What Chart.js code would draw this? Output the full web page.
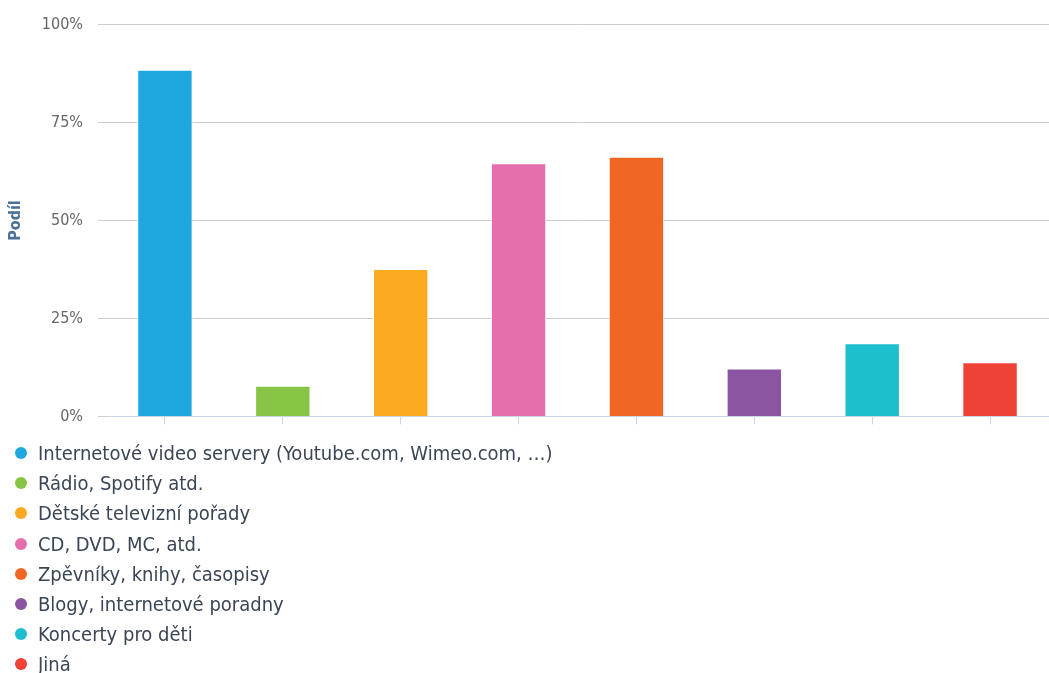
<!DOCTYPE html>
<html>
<head>
<meta charset="utf-8">
<script src="https://cdn.jsdelivr.net/npm/chart.js@4/dist/chart.umd.min.js"></script>
<style>
    html, body { margin: 0; padding: 0; background: #fff; }
    #wrap { position: relative; width: 1049px; height: 441px; }
    #legend { list-style: none; margin: -3px 0 0 0; padding: 0; font-family: "DejaVu Sans Condensed", "DejaVu Sans", sans-serif; font-size: 20px; color: #3a4656; }
    #legend li { height: 30.2px; line-height: 30.2px; position: relative; padding-left: 38px; white-space: nowrap; }
    #legend li span { position: absolute; left: 15px; top: 9px; width: 12px; height: 12px; border-radius: 50%; }
</style>
</head>
<body>
<div id="wrap"><canvas id="chart"></canvas></div>
<ul id="legend"></ul>
<script>
const categories = [
    "Internetové video servery (Youtube.com, Wimeo.com, …)",
    "Rádio, Spotify atd.",
    "Dětské televizní pořady",
    "CD, DVD, MC, atd.",
    "Zpěvníky, knihy, časopisy",
    "Blogy, internetové poradny",
    "Koncerty pro děti",
    "Jiná"
];
const shares = [88.5, 7.8, 37.6, 64.6, 66.3, 12.2, 18.7, 13.8];
const barColors = ["#1fa8e0", "#88c445", "#fbaa22", "#e56fac", "#f06724", "#8c55a1", "#1dbfcf", "#ef4237"];
const yTicks = [0, 25, 50, 75, 100];

// legend drawn as html list, one row per category
const htmlLegend = {
    id: 'htmlLegend',
    afterUpdate(chart) {
        const ul = document.getElementById('legend');
        ul.innerHTML = '';
        chart.data.labels.forEach((label, i) => {
            const li = document.createElement('li');
            const dot = document.createElement('span');
            dot.style.background = chart.data.datasets[0].backgroundColor[i];
            li.appendChild(dot);
            li.appendChild(document.createTextNode(label));
            ul.appendChild(li);
        });
    }
};

const canvas = document.getElementById('chart');

new Chart(canvas.getContext('2d'), {
    type: 'bar',
    data: {
        labels: categories,
        datasets: [{
            label: 'Podíl',
            data: shares,
            backgroundColor: barColors,
            borderColor: '#ffffff',
            borderWidth: 1,
            barPercentage: 0.94,
            categoryPercentage: 0.5
        }]
    },
    options: {
        responsive: true,
        maintainAspectRatio: false,
        animation: false,
        layout: {
            padding: { top: 14, right: 0, bottom: 0, left: 0 }
        },
        scales: {
            x: {
                afterFit: (scale) => { scale.height = 8; },
                grid: {
                    display: true,
                    offset: false,
                    drawOnChartArea: false,
                    drawTicks: true,
                    tickLength: 8,
                    color: '#ccd6eb'
                },
                border: { color: '#ccd6eb', width: 1 },
                ticks: { display: false }
            },
            y: {
                min: 0,
                max: 100,
                afterFit: (scale) => { scale.width = 106; },
                afterBuildTicks: (scale) => { scale.ticks = yTicks.map(v => ({ value: v })); },
                grid: {
                    color: '#cccccc',
                    tickLength: 8
                },
                border: { display: false },
                ticks: {
                    padding: 15,
                    color: '#666666',
                    font: { family: 'DejaVu Sans Condensed', size: 16 },
                    callback: (v) => v + '%'
                },
                title: {
                    display: true,
                    text: 'Podíl',
                    color: '#4a6f99',
                    font: { family: 'DejaVu Sans Condensed', size: 16, weight: 'bold' },
                    padding: { top: 6, bottom: 0 }
                }
            }
        },
        plugins: {
            legend: { display: false },
            tooltip: { enabled: false }
        }
    },
    plugins: [htmlLegend]
});
</script>
</body>
</html>
